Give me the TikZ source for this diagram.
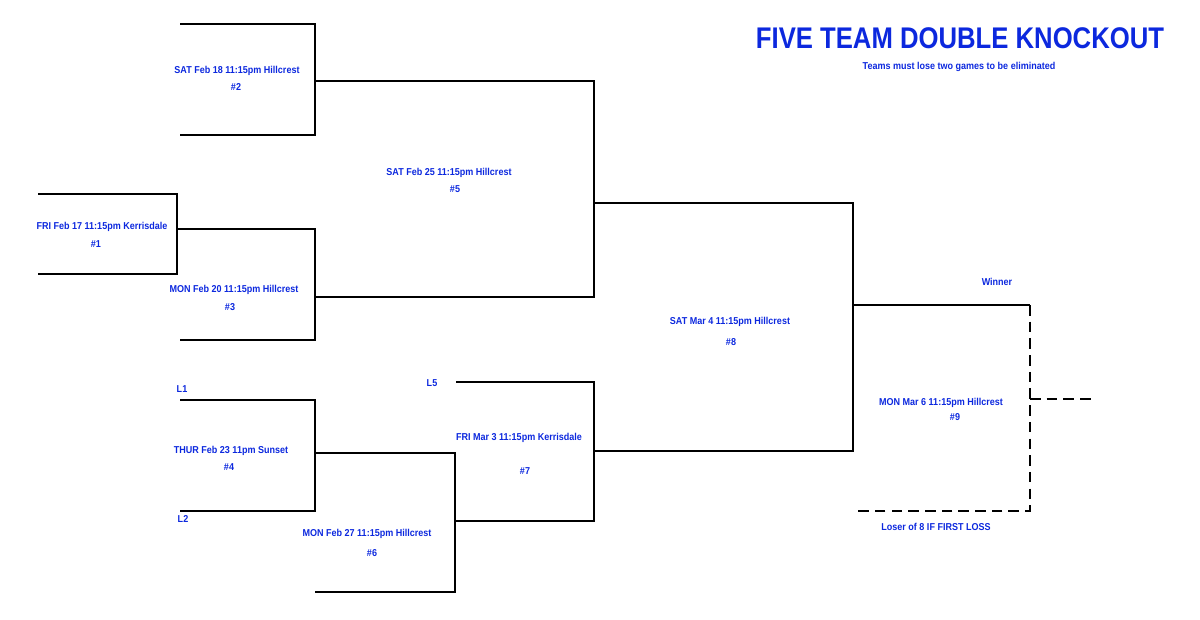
\documentclass[tikz,border=0pt]{standalone}
\usepackage{xcolor}
\usepackage{fontspec}
\setmainfont{Liberation Sans}[FakeStretch=0.9]
\newfontfamily\titlefont{Liberation Sans}[FakeStretch=0.86]
\definecolor{kblue}{RGB}{12,40,222}
\usepackage{tikz}
\usetikzlibrary{positioning}

\begin{document}
\begin{tikzpicture}[
  x=0.02cm, y=-0.02cm,
  ln/.style={line width=1.6pt},
  dsh/.style={line width=1.6pt, dash pattern=on 6pt off 3.5pt},
  lab/.style={font=\bfseries\fontsize{5.7}{6.8}\selectfont, text=kblue, inner sep=0pt},
  ttl/.style={font=\titlefont\bfseries\fontsize{17}{20}\selectfont, text=kblue, inner sep=0pt}
]
\useasboundingbox (0,0) rectangle (1200,619);

% Bracket corners
\coordinate (g1t) at (38,194);
\coordinate (g1b) at (38,274);
\coordinate (g1o) at (177,229);
\coordinate (g2t) at (180,24);
\coordinate (g2b) at (180,135);
\coordinate (g2o) at (315,81);
\coordinate (g3b) at (180,340);
\coordinate (g3o) at (315,297);
\coordinate (g4t) at (180,400);
\coordinate (g4b) at (180,511);
\coordinate (g4o) at (315,453);
\coordinate (g5o) at (594,203);
\coordinate (g6b) at (315,592);
\coordinate (g6o) at (455,521);
\coordinate (g7t) at (456,382);
\coordinate (g7o) at (594,451);
\coordinate (g8o) at (853,305);
\coordinate (g9c) at (1030,305);
\coordinate (g9m) at (1030,399);
\coordinate (g9b) at (853,511);
\coordinate (g9x) at (1092,399);

% Brackets
\draw[ln] (g1t) -| (g1o) |- (g1b);
\draw[ln] (g2t) -| (g2o) |- (g2b);
\draw[ln] (g1o) -| (g3o) |- (g3b);
\draw[ln] (g4t) -| (g4o) |- (g4b);
\draw[ln] (g2o) -| (g5o) |- (g3o);
\draw[ln] (g4o) -| (g6o) |- (g6b);
\draw[ln] (g7t) -| (g7o) |- (g6o);
\draw[ln] (g5o) -| (g8o) |- (g7o);
\draw[ln] (g8o) -- (g9c);
\draw[dsh] (g9c) |- (g9b);
\draw[dsh] (g9m) -- (g9x);

% Game labels
\node[lab] (g1txt) at (102,227) {FRI Feb 17 11:15pm Kerrisdale};
\node[lab] (g1num) at (96,244) {\#1};
\node[lab] (g2txt) at (237,71) {SAT Feb 18 11:15pm Hillcrest};
\node[lab] (g2num) at (236,87) {\#2};
\node[lab] (g3txt) at (234,290) {MON Feb 20 11:15pm Hillcrest};
\node[lab] (g3num) at (230,307) {\#3};
\node[lab] (g4txt) at (231,451) {THUR Feb 23 11pm Sunset};
\node[lab] (g4num) at (229,467) {\#4};
\node[lab] (g5txt) at (449,173) {SAT Feb 25 11:15pm Hillcrest};
\node[lab] (g5num) at (455,189) {\#5};
\node[lab] (g6txt) at (367,534) {MON Feb 27 11:15pm Hillcrest};
\node[lab] (g6num) at (372,553) {\#6};
\node[lab] (g7txt) at (519,438) {FRI Mar 3 11:15pm Kerrisdale};
\node[lab] (g7num) at (525,471) {\#7};
\node[lab] (g8txt) at (730,322) {SAT Mar 4 11:15pm Hillcrest};
\node[lab] (g8num) at (731,342) {\#8};
\node[lab] (g9txt) at (941,403) {MON Mar 6 11:15pm Hillcrest};
\node[lab] (g9num) at (955,417) {\#9};

% Losers and winner
\node[lab] (l1) at (182,389) {L1};
\node[lab] (l2) at (183,519) {L2};
\node[lab] (l5) at (432,383) {L5};
\node[lab] (win) at (997,282) {Winner};
\node[lab] (lose8) at (936,527) {Loser of 8 IF FIRST LOSS};

% Title
\node[ttl] (title) at (960,38) {FIVE TEAM DOUBLE KNOCKOUT};
\node[lab] (sub) at (959,67) {Teams must lose two games to be eliminated};
\end{tikzpicture}
\end{document}
